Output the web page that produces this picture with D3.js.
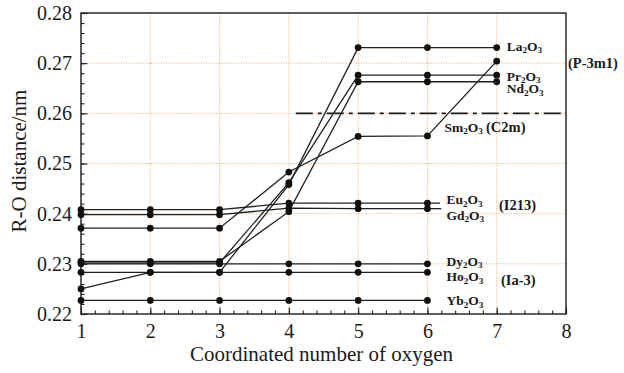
<!DOCTYPE html>
<html>
<head>
<meta charset="utf-8">
<script src="https://cdn.jsdelivr.net/npm/d3@7"></script>
<style>
  html, body { margin: 0; padding: 0; background: #fff; }
  svg { display: block; }
</style>
</head>
<body>
<svg id="chart" width="624" height="373"></svg>
<script>
// Coordination number of oxygen (x) and R-O distance in nm (y) per oxide
const coordination = [1, 2, 3, 4, 5, 6, 7];
const la2o3 = [0.2250, 0.2283, 0.2283, 0.2458, 0.2731, 0.2731, 0.2731];
const pr2o3 = [0.2302, 0.2302, 0.2302, 0.2462, 0.2676, 0.2676, 0.2676];
const nd2o3 = [0.2305, 0.2305, 0.2305, 0.2404, 0.2663, 0.2663, 0.2663];
const sm2o3 = [0.2371, 0.2371, 0.2371, 0.2483, 0.2554, 0.2555, 0.2704];
const eu2o3 = [0.2408, 0.2408, 0.2408, 0.2421, 0.2421, 0.2421];
const gd2o3 = [0.2398, 0.2398, 0.2398, 0.2411, 0.2410, 0.2410];
const dy2o3 = [0.2300, 0.2300, 0.2300, 0.2300, 0.2300, 0.2300];
const ho2o3 = [0.2283, 0.2283, 0.2283, 0.2283, 0.2283, 0.2283];
const yb2o3 = [0.2227, 0.2227, 0.2227, 0.2227, 0.2227, 0.2227];

// Reference level drawn as a dash-dot line
const referenceLevel = 0.26;
const referenceFrom = 4.1;

const xTicks = [1, 2, 3, 4, 5, 6, 7, 8];
const yTicks = [0.22, 0.23, 0.24, 0.25, 0.26, 0.27, 0.28];

const series = [
  { name: "La2O3", values: la2o3 },
  { name: "Pr2O3", values: pr2o3 },
  { name: "Nd2O3", values: nd2o3 },
  { name: "Sm2O3", values: sm2o3 },
  { name: "Eu2O3", values: eu2o3, tail: 6.18 },
  { name: "Gd2O3", values: gd2o3, tail: 6.2 },
  { name: "Dy2O3", values: dy2o3 },
  { name: "Ho2O3", values: ho2o3 },
  { name: "Yb2O3", values: yb2o3 }
];

const serif = "Liberation Serif";
const ink = "#1a1a1a";
const svg = d3.select("#chart");
const plotLeft = 81, plotRight = 566, plotTop = 13, plotBottom = 314;

const x = d3.scaleLinear().domain([1, 8]).range([plotLeft, plotRight]);
const y = d3.scaleLinear().domain([0.22, 0.28]).range([plotBottom, plotTop]);

// Dotted orange grid
const grid = svg.append("g");
grid.selectAll("line.gx").data(xTicks.slice(1, -1)).join("line")
  .attr("class", "gx")
  .attr("x1", d => x(d)).attr("x2", d => x(d))
  .attr("y1", plotTop).attr("y2", plotBottom)
  .attr("stroke", "#f2ae72").attr("stroke-width", 1).attr("stroke-dasharray", "1,1.5");
grid.selectAll("line.gy").data(yTicks.slice(1, -1)).join("line")
  .attr("class", "gy")
  .attr("x1", plotLeft).attr("x2", plotRight)
  .attr("y1", d => y(d)).attr("y2", d => y(d))
  .attr("stroke", "#f2ae72").attr("stroke-width", 1).attr("stroke-dasharray", "1,1.5");

// Axes with inward ticks
const yMinor = d3.range(0, 31).map(i => +(0.22 + i * 0.002).toFixed(3));
const xMinor = d3.range(0, 36).map(i => +(1 + i * 0.2).toFixed(1));

svg.append("g").attr("transform", `translate(${plotLeft},0)`)
  .call(d3.axisLeft(y).tickValues(yMinor).tickSize(-3.5).tickFormat(""))
  .call(g => g.select(".domain").remove());
svg.append("g").attr("transform", `translate(0,${plotBottom})`)
  .call(d3.axisBottom(x).tickValues(xMinor).tickSize(-3.5).tickFormat(""))
  .call(g => g.select(".domain").remove());

const yAxis = svg.append("g").attr("transform", `translate(${plotLeft},0)`)
  .call(d3.axisLeft(y).tickValues(yTicks).tickSize(-6.5).tickPadding(9).tickFormat(d3.format(".2f")))
  .call(g => g.select(".domain").remove());
yAxis.attr("font-family", serif).attr("font-size", 20);
yAxis.selectAll("text").attr("font-family", serif).attr("font-size", 20).attr("fill", ink);

const xAxis = svg.append("g").attr("transform", `translate(0,${plotBottom})`)
  .call(d3.axisBottom(x).tickValues(xTicks).tickSize(-6.5).tickPadding(10).tickFormat(d3.format("d")))
  .call(g => g.select(".domain").remove());
xAxis.attr("font-family", serif).attr("font-size", 20);
xAxis.selectAll("text").attr("font-family", serif).attr("font-size", 20).attr("fill", ink);

svg.selectAll(".tick line").attr("stroke", "#222").attr("stroke-width", 1.1);

// Frame
svg.append("rect")
  .attr("x", plotLeft).attr("y", plotTop)
  .attr("width", plotRight - plotLeft).attr("height", plotBottom - plotTop)
  .attr("fill", "none").attr("stroke", ink).attr("stroke-width", 1.4);

// Dash-dot reference line
svg.append("line")
  .attr("x1", x(referenceFrom)).attr("x2", x(8))
  .attr("y1", y(referenceLevel)).attr("y2", y(referenceLevel))
  .attr("stroke", ink).attr("stroke-width", 1.6)
  .attr("stroke-dasharray", "17,5,4,5");

// Series lines and markers
const line = d3.line()
  .x((d, i) => x(coordination[i]))
  .y(d => y(d));

const gSeries = svg.append("g");
series.forEach(s => {
  gSeries.append("path")
    .attr("d", line(s.values))
    .attr("fill", "none").attr("stroke", "#202020").attr("stroke-width", 1.3);
  if (s.tail) {
    const last = s.values[s.values.length - 1];
    gSeries.append("line")
      .attr("x1", x(coordination[s.values.length - 1])).attr("x2", x(s.tail))
      .attr("y1", y(last)).attr("y2", y(last))
      .attr("stroke", "#202020").attr("stroke-width", 1.3);
  }
});
series.forEach(s => {
  gSeries.selectAll(null).data(s.values).join("circle")
    .attr("cx", (d, i) => x(coordination[i]))
    .attr("cy", d => y(d))
    .attr("r", 3.4)
    .attr("fill", "#111");
});

// Formula labels with subscripted digits
function formula(g, text, px, py, size) {
  const t = g.append("text").attr("x", px).attr("y", py)
    .attr("font-family", serif).attr("fill", ink)
    .attr("font-size", size).attr("font-weight", "bold");
  let sub = false;
  for (const ch of text) {
    const isDigit = /[0-9]/.test(ch);
    const ts = t.append("tspan").text(ch);
    if (isDigit && !sub) { ts.attr("dy", size * 0.18).attr("font-size", size * 0.68); sub = true; }
    else if (isDigit && sub) { ts.attr("font-size", size * 0.68); }
    else if (!isDigit && sub) { ts.attr("dy", -size * 0.18); sub = false; }
  }
  return t;
}

const labels = svg.append("g");
const fs = 13.5;
formula(labels, "La2O3", x(7) + 10, y(la2o3[6]) + 3, fs);
formula(labels, "Pr2O3", x(7) + 10, y(pr2o3[6]) + 5.5, fs);
formula(labels, "Nd2O3", x(7) + 10, y(nd2o3[6]) + 11.5, fs);
formula(labels, "Sm2O3", x(6) + 17, y(sm2o3[5]) - 4, fs);
formula(labels, "Eu2O3", x(6) + 19, y(eu2o3[5]) + 1, fs);
formula(labels, "Gd2O3", x(6) + 19, y(gd2o3[5]) + 11, fs);
formula(labels, "Dy2O3", x(6) + 19, y(dy2o3[5]) + 2, fs);
formula(labels, "Ho2O3", x(6) + 19, y(ho2o3[5]) + 9, fs);
formula(labels, "Yb2O3", x(6) + 19, y(yb2o3[5]) + 5, fs);

const phase = (text, px, py) => labels.append("text")
  .attr("x", px).attr("y", py)
  .attr("font-family", serif).attr("fill", ink)
  .attr("font-size", 14.5).attr("font-weight", "bold").text(text);
phase("(P-3m1)", 568, 68);
phase("(C2m)", 486, 132);
phase("(I213)", 499, 210);
phase("(Ia-3)", 501, 285);

// Axis titles
svg.append("text")
  .attr("x", (plotLeft + plotRight) / 2 - 2).attr("y", 361)
  .attr("font-family", serif).attr("fill", ink)
  .attr("text-anchor", "middle").attr("font-size", 21)
  .text("Coordinated number of oxygen");
svg.append("text")
  .attr("transform", "translate(26,161) rotate(-90)")
  .attr("font-family", serif).attr("fill", ink)
  .attr("text-anchor", "middle").attr("font-size", 21)
  .text("R-O distance/nm");
</script>
</body>
</html>
